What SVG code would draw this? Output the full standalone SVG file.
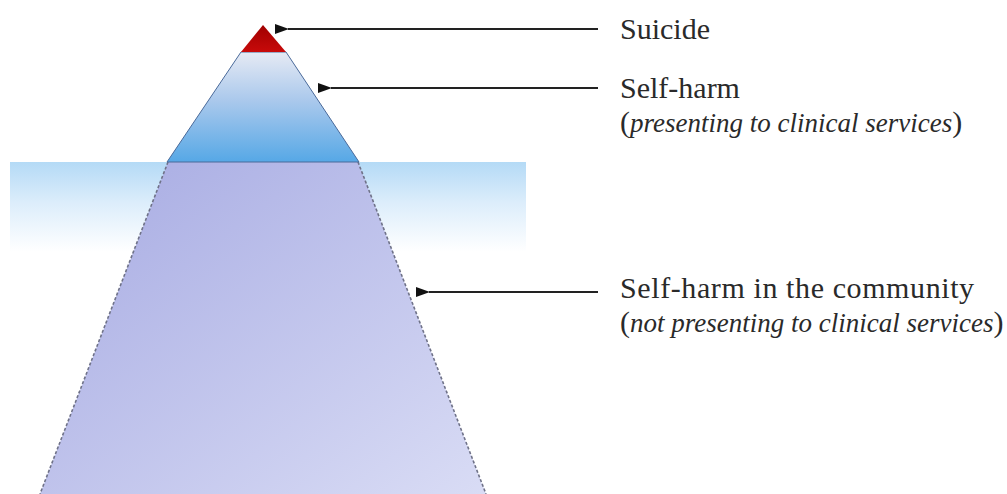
<svg xmlns="http://www.w3.org/2000/svg" width="1007" height="494" viewBox="0 0 1007 494">
  <defs>
    <linearGradient id="water" x1="0" y1="0" x2="0" y2="1">
      <stop offset="0" stop-color="#b4daf6"/>
      <stop offset="0.45" stop-color="#dcedfb"/>
      <stop offset="1" stop-color="#ffffff"/>
    </linearGradient>
    <linearGradient id="under" x1="0" y1="0" x2="1" y2="1">
      <stop offset="0" stop-color="#a6aae2"/>
      <stop offset="1" stop-color="#d9dcf5"/>
    </linearGradient>
    <linearGradient id="visible" x1="0" y1="0" x2="0" y2="1">
      <stop offset="0" stop-color="#e6eaf4"/>
      <stop offset="0.45" stop-color="#a9c8ec"/>
      <stop offset="1" stop-color="#56a8e6"/>
    </linearGradient>
    <linearGradient id="tip" x1="0" y1="0" x2="0" y2="1">
      <stop offset="0" stop-color="#a00000"/>
      <stop offset="1" stop-color="#c80a0a"/>
    </linearGradient>
    <marker id="arrow" markerWidth="14" markerHeight="10" refX="1" refY="5" orient="auto" markerUnits="userSpaceOnUse">
      <path d="M0,5 L14,0 L14,10 Z" fill="#111111"/>
    </marker>
    <style>
      .lbl { font-family: "Liberation Serif", "DejaVu Serif", serif; font-size: 30px; fill: #2a2a2a; }
      .it { font-style: italic; font-size: 27px; }
      .conn { stroke: #222222; stroke-width: 2; fill: none; }
    </style>
  </defs>

  <rect id="water-band" x="10" y="162" width="516" height="90" fill="url(#water)"/>

  <g id="node-community">
    <polygon points="168,162 358,162 486,494 40,494" fill="url(#under)" stroke="none"/>
    <line x1="168" y1="162" x2="40" y2="494" stroke="#6f7288" stroke-width="1.6" stroke-dasharray="3,2"/>
    <line x1="358" y1="162" x2="486" y2="494" stroke="#6f7288" stroke-width="1.6" stroke-dasharray="3,2"/>
  </g>

  <g id="node-selfharm">
    <polygon points="241,52 286,52 359,162 167,162" fill="url(#visible)" stroke="#4a6a9a" stroke-width="1"/>
  </g>

  <g id="node-suicide">
    <polygon points="263,25 286,52 241,52" fill="url(#tip)" stroke="none"/>
  </g>

  <g id="connectors">
    <line class="conn" x1="598" y1="29" x2="288" y2="29" marker-end="url(#arrow)"/>
    <line class="conn" x1="598" y1="88" x2="331" y2="88" marker-end="url(#arrow)"/>
    <line class="conn" x1="598" y1="292" x2="429" y2="292" marker-end="url(#arrow)"/>
  </g>

  <g id="labels">
    <text class="lbl" x="620" y="39">Suicide</text>
    <text class="lbl" x="620" y="98">Self-harm</text>
    <text class="lbl" x="620" y="132">(<tspan class="it">presenting to clinical services</tspan>)</text>
    <text class="lbl" x="620" y="298" letter-spacing="0.6">Self-harm in the community</text>
    <text class="lbl" x="620" y="332">(<tspan class="it">not presenting to clinical services</tspan>)</text>
  </g>
</svg>
